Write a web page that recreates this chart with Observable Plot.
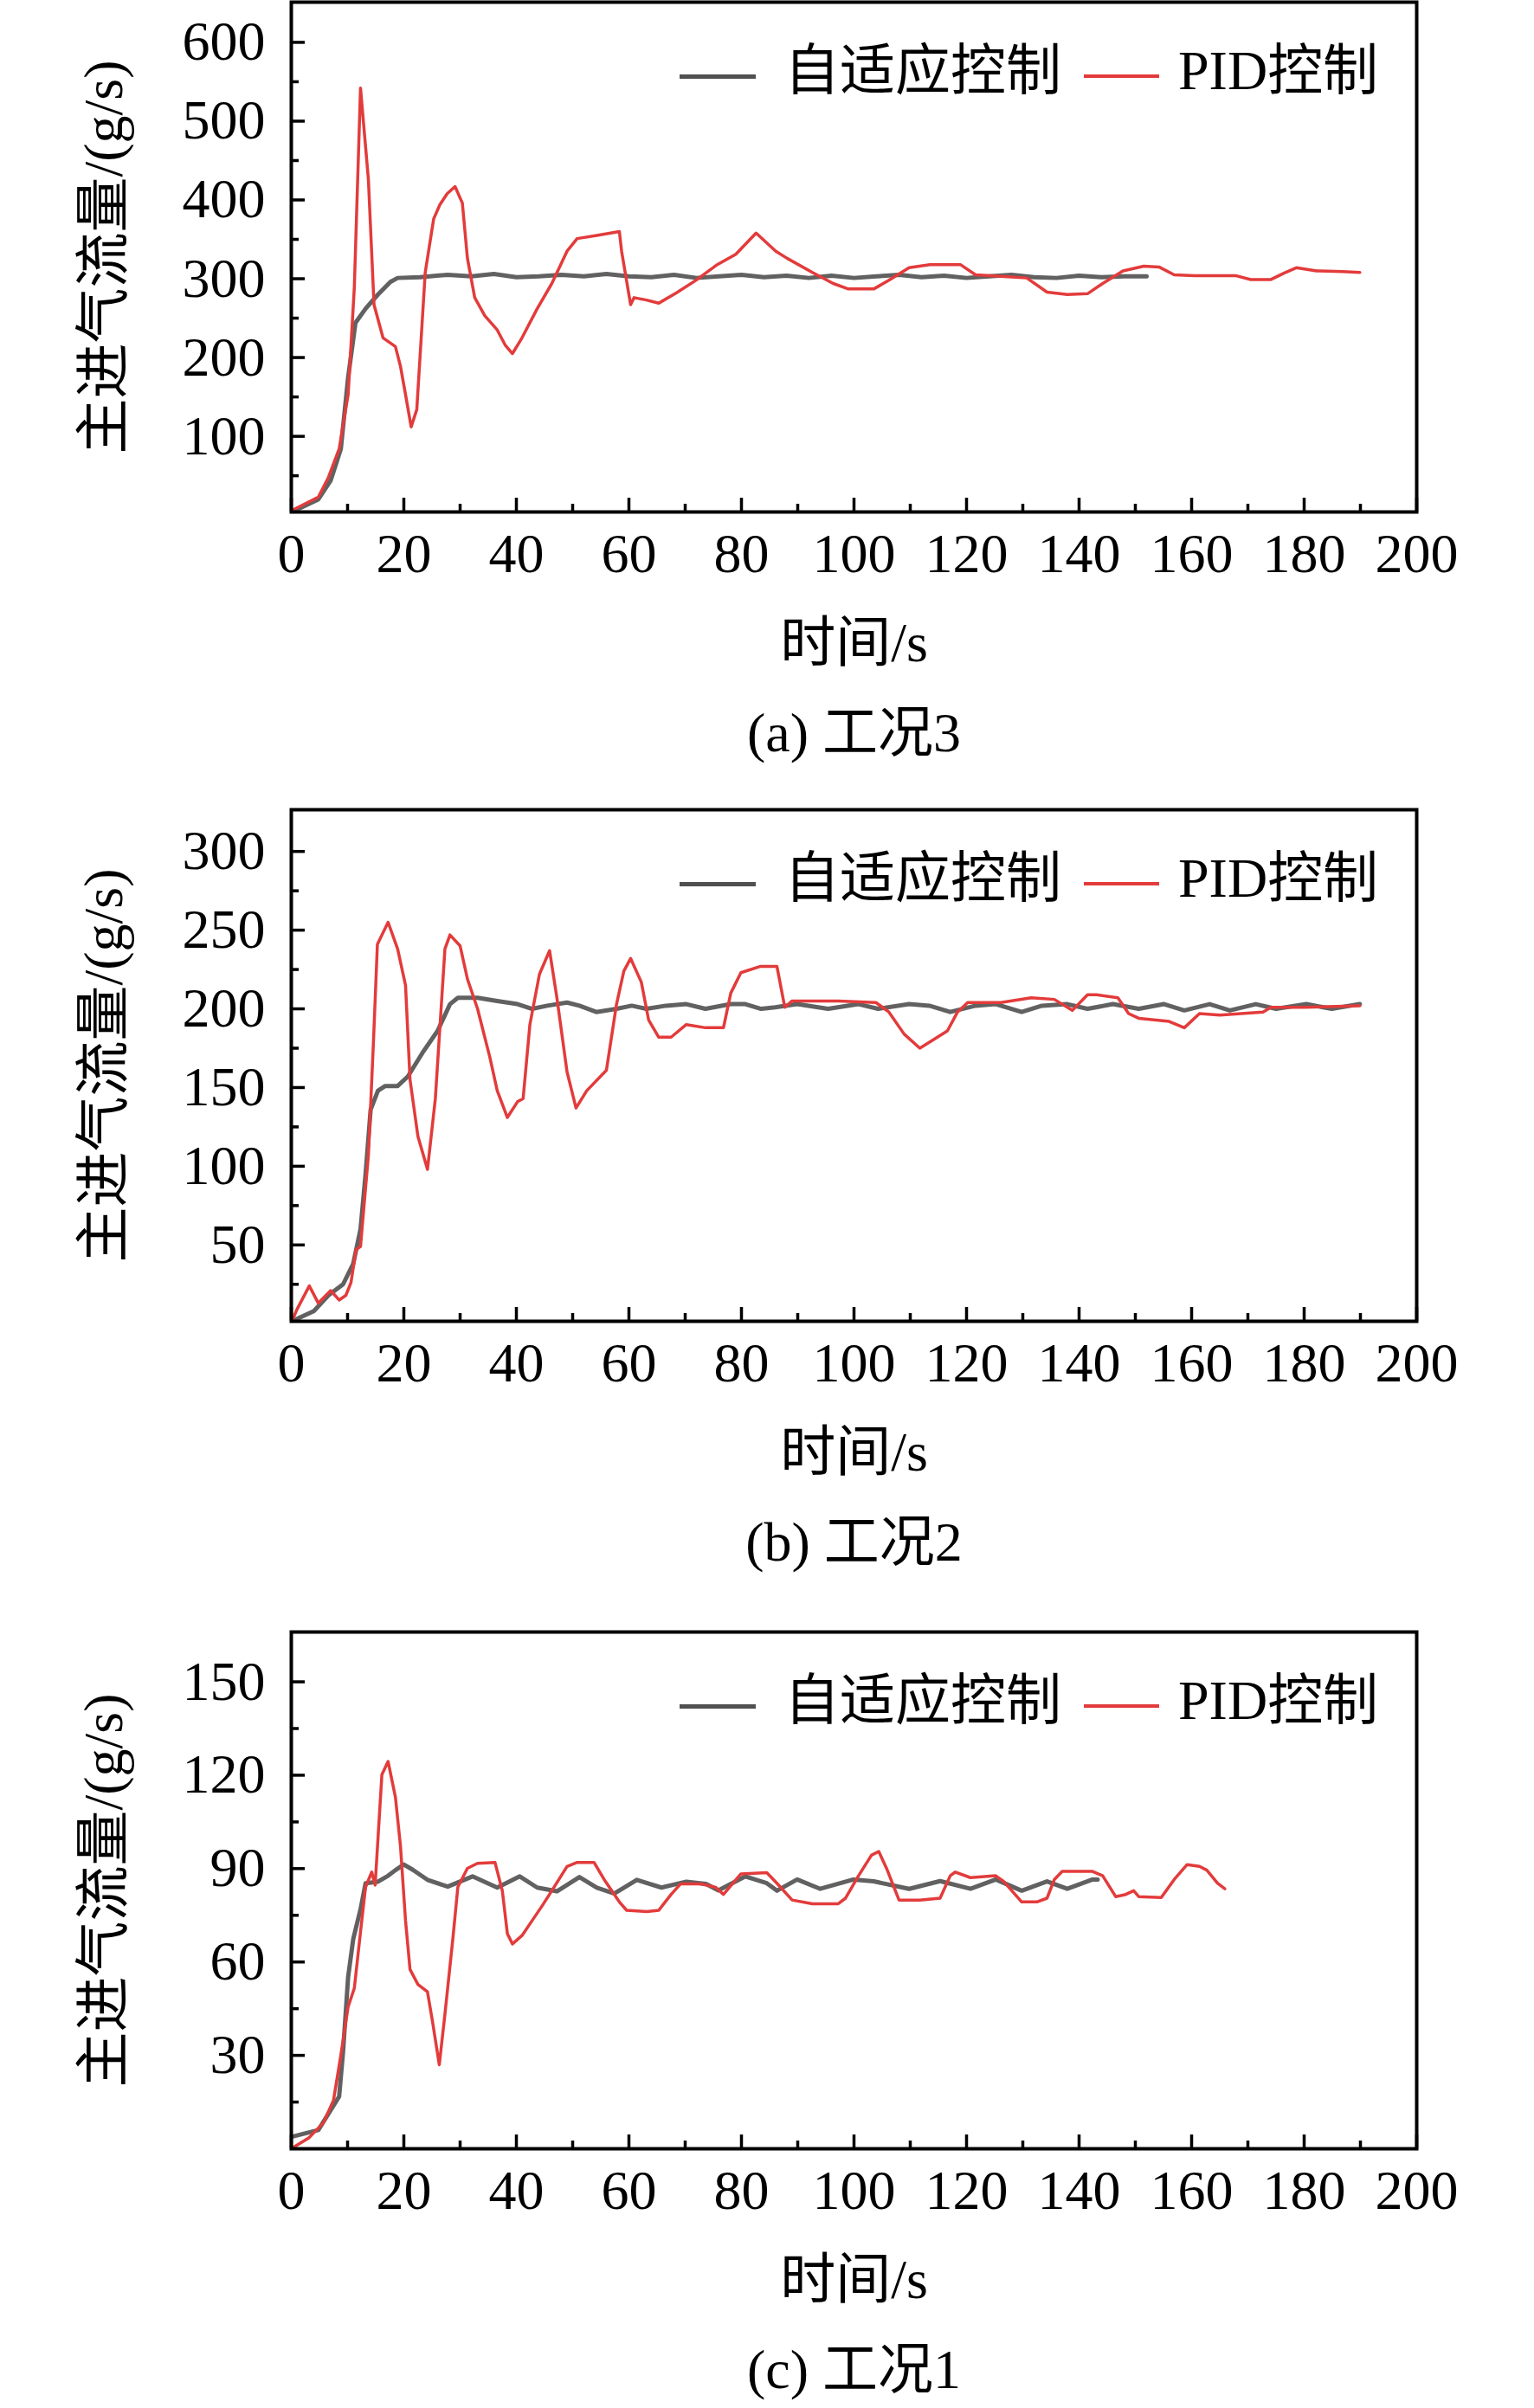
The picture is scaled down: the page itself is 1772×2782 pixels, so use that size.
<!DOCTYPE html>
<html><head><meta charset="utf-8">
<script src="https://cdn.jsdelivr.net/npm/d3@7"></script>
<script src="https://cdn.jsdelivr.net/npm/@observablehq/plot@0.6"></script>
<style>
html,body{margin:0;padding:0;background:#fff;}
body{width:1772px;height:2782px;position:relative;overflow:hidden;font-family:"Liberation Serif","Noto Sans CJK SC",serif;}
.panel{position:absolute;left:0;}
.panel svg text{font-family:"Liberation Serif","Noto Sans CJK SC",serif !important;}
.leg{position:absolute;font-size:64px;line-height:64px;color:#000;white-space:nowrap;}
.sw{position:absolute;}
</style></head><body>
<script>
// ---------- data ----------
const xMajor = [0,20,40,60,80,100,120,140,160,180,200];
const xMinor = [10,30,50,70,90,110,130,150,170,190];
const legendLabels = ["自适应控制","PID控制"];
const yLabel = "主进气流量/(g/s)";
const xLabel = "时间/s";

// (a) 工况3
const a_yMajor = [100,200,300,400,500,600];
const a_yMinor = [50,150,250,350,450,550];
const a_pid_t = [0.4,4.8,6.6,8.5,10.1,11.2,12.3,13.7,14.7,16.3,18.5,19.4,20.3,21.3,22.3,23.8,25.3,26.4,27.7,29.1,30.4,31.3,32.6,34.4,36.6,38.0,39.3,41.0,43.7,46.3,49.0,50.8,54.3,58.3,58.7,60.3,60.9,63.1,65.3,68.4,71.9,75.5,79.0,82.6,86.1,88.1,92.6,96.3,99,103.5,106.2,109.8,113.5,118.9,121.6,126.1,130.7,134.3,137.9,141.5,144.2,147.8,151.5,154.2,156.9,160.5,167.8,170.5,174.1,176.4,178.6,182.2,186.8,189.9];
const a_pid_v = [7,23,48,84,153,289,542,426,267,225,214,189,153,112,134,308,376,394,408,417,396,326,276,253,235,216,205,225,262,294,335,351,355,360,335,267,276,273,269,282,298,317,331,358,335,326,308,294,287,287,298,314,318,318,305,303,301,283,280,281,294,310,316,315,305,304,304,299,299,307,314,310,309,308];
const a_ada_t = [0.4,4.8,7,8.8,10.1,11.4,13.2,15.4,17.6,18.9,22.9,27.8,32,36,40,44,48,52,56,60,64,68,72,76,80,84,88,92,96,100,104,108,112,116,120,124,128,132,136,140,144,148,152];
const a_ada_v = [5,20,44,84,175,244,262,280,296,301,302,305,303,306,302,303,305,303,306,303,302,305,301,303,305,302,304,301,304,301,303,305,302,304,301,303,305,302,301,304,302,303,303];

// (b) 工况2
const b_yMajor = [50,100,150,200,250,300];
const b_yMinor = [25,75,125,175,225,275];
const b_pid_t = [0.3,1.0,3.2,4.8,7,8.5,9.7,10.6,11.5,12.3,13.7,14.6,15.3,17.2,18.9,20.3,21.1,22.5,24.2,25.6,27.3,28.2,30,31.3,33.1,35.3,36.6,38.4,40.2,41.2,42.4,44.1,45.9,47.2,49.0,50.6,52.5,56.0,57.8,59.1,60.3,62.2,63.5,65.3,67.5,70.2,73.6,76.8,78.1,79.9,83.4,86.3,87.7,89,97.2,103.9,106.2,108.9,111.7,114.4,116.6,118.4,120.2,126.1,131.5,135.6,138.8,141.5,143.1,146.9,148.8,150.6,156,158.7,161.4,165,172.7,174.1,180,189.9];
const b_pid_v = [3,9,24,13,21,15,18,26,47,49,107,179,241,255,238,215,155,119,98,143,238,247,240,219,200,169,148,131,141,143,190,222,237,207,160,137,148,161,203,224,232,217,193,182,182,190,188,188,210,223,227,227,201,205,205,204,198,184,175,181,186,198,204,204,207,206,199,209,209,207,197,194,192,188,197,196,198,201,201,202];
const b_ada_t = [0.4,4,6.6,9.2,11,12.3,13.2,14.1,15.4,16.7,18.9,20.7,23.3,26,28.2,29.6,33.1,36.6,40.2,42.8,45.5,49,51.2,54.2,57.8,60.5,63.1,66.6,70.2,73.6,78.1,80.7,83.5,86,89.9,95.4,100.8,104.3,109.8,113.4,117.1,121.6,125.2,129.8,133.4,137.9,141.5,146,150.6,155.1,158.7,163.2,166.8,171.4,175,180.4,184.9,189.9];
const b_ada_v = [2,8,18,25,38,60,95,136,148,151,151,157,172,186,203,207,207,205,203,200,202,204,202,198,200,202,200,202,203,200,203,203,200,201,203,200,203,200,203,202,198,202,203,198,202,203,200,203,200,203,199,203,199,203,200,203,200,203];

// (c) 工况1
const c_yMajor = [30,60,90,120,150];
const c_yMinor = [15,45,75,105,135];
const c_pid_t = [0.4,3.1,5.7,7.5,8.8,10.1,11.2,12.3,13.2,14.3,14.9,16.1,17.2,18.5,19.4,20.3,21.1,22.5,24.2,25.1,26.3,27.3,28.7,29.6,31.3,33.1,36.2,37.5,38.4,39.3,41.0,42.8,44.6,46.3,49,50.8,53.8,55.6,58.3,59.6,63.2,65.3,67.5,69.2,72.8,75.4,76.8,79.9,84.5,86.3,89,92.6,97.2,98.5,100.8,103.1,104.4,105.9,108,111.7,115.3,117.1,118,120.7,125.2,126.6,129.8,132.5,134.3,135.6,137,142.4,144.2,146.5,148.3,149.7,150.6,154.6,156.9,159.2,161.4,162.7,164.6,165.9];
const c_pid_v = [0.5,3.5,8.3,15.6,30,45.6,51.6,69.7,84.1,88.9,84.7,120.2,124.4,113,97.3,73.3,57.6,52.8,50.4,40.8,27,43.2,67.3,84.1,90.1,91.7,92,82.9,69.1,65.8,68.5,73.3,78.1,82.9,90.7,92,92,86.5,79.3,76.6,76.2,76.6,81.7,85.1,85.1,84,81.7,88.3,88.7,85.3,79.9,78.7,78.7,80.5,87.7,94.3,95.5,89.6,79.9,79.9,80.5,87.7,88.9,87.1,87.7,85.9,79.3,79.3,80.5,86.5,89.1,89.1,87.7,81,81.7,82.9,81,80.7,86.5,91.3,90.7,89.5,85.3,83.5];
const c_ada_t = [0.4,4.8,8.5,9.2,10.1,11,12.3,13.2,15.4,17.2,18.5,20,21.6,24.2,27.8,32.2,36.6,40.6,43.7,47.2,51.2,54.3,57.4,61.4,65.8,70.2,73.7,75.9,80.7,84.5,86.3,89.9,94,99.9,103.5,109.8,115.3,120.7,125.2,129.8,134.3,137.9,142.4,143.3];
const c_ada_v = [4,6,16.8,31.2,55.2,67.3,76.9,85.3,85.8,87.7,89.5,91.3,89.6,86.4,84.2,87.5,83.9,87.5,83.9,82.7,87.3,83.9,82,86.4,83.9,85.8,85.1,83,87.5,85.3,82.9,86.5,83.5,86.5,85.9,83.5,86,83.5,86.5,82.9,85.9,83.5,86.5,86.5];

// ---------- drawing ----------
const FONT = '"Liberation Serif","Noto Sans CJK SC",serif';
const RED = "#e33b3b", GRAY = "#505050";
const zip = (t, v) => t.slice(0, Math.min(t.length, v.length)).map((x, i) => ({t: x, v: v[i]}));

function panel({frameTop, H, yDomain, yMajor, yMinor, pidT, pidV, adaT, adaV, caption}) {
  const mt = 10, mb = 300, W = 1772, ml = 336, mr = 136;
  const fw = W - ml - mr;
  const tx = {stroke: "#000", strokeWidth: 3.5};
  const txt = {fontSize: 64, fontFamily: FONT, fill: "#000", lineAnchor: "middle", textAnchor: "middle"};
  const chart = Plot.plot({
    width: W, height: mt + H + mb,
    marginLeft: ml, marginRight: mr, marginTop: mt, marginBottom: mb,
    style: {fontFamily: FONT, fontSize: "64px", color: "#000", background: "transparent", overflow: "visible"},
    x: {domain: [0, 200]},
    y: {domain: yDomain},
    marks: [
      Plot.line(zip(adaT, adaV), {x: "t", y: "v", stroke: GRAY, strokeWidth: 5, strokeOpacity: 0.9}),
      Plot.line(zip(pidT, pidV), {x: "t", y: "v", stroke: RED, strokeWidth: 3.5}),
      Plot.ruleX(xMajor, {x: d => d, insetTop: H - 16, ...tx}),
      Plot.ruleX(xMinor, {x: d => d, insetTop: H - 9, ...tx}),
      Plot.ruleY(yMajor, {y: d => d, insetRight: fw - 16, ...tx}),
      Plot.ruleY(yMinor, {y: d => d, insetRight: fw - 9, ...tx}),
      Plot.axisX(xMajor, {tickSize: 0, tickPadding: 24, label: null, fontSize: 64, fontFamily: FONT}),
      Plot.axisY(yMajor, {tickSize: 0, tickPadding: 30, label: null, fontSize: 64, fontFamily: FONT}),
      Plot.frame({stroke: "#000", strokeWidth: 4}),
      Plot.text([yLabel], {text: d => d, frameAnchor: "left", dx: -216, rotate: -90, ...txt}),
      Plot.text([xLabel], {text: d => d, frameAnchor: "bottom", dy: 152, ...txt}),
      Plot.text([caption], {text: d => d, frameAnchor: "bottom", dy: 256, ...txt})
    ]
  });
  const wrap = document.createElement("div");
  wrap.className = "panel";
  wrap.style.top = (frameTop - mt) + "px";
  wrap.appendChild(chart);
  document.body.appendChild(wrap);

  // legend (inside frame, top right)
  const cy = frameTop + 86;
  const add = (cls, css, text) => {
    const e = document.createElement("div");
    e.className = cls;
    Object.assign(e.style, css);
    if (text) e.textContent = text;
    document.body.appendChild(e);
  };
  add("sw", {left: "785px", top: (cy - 2.5) + "px", width: "88px", height: "5px", background: GRAY});
  add("leg", {left: "906px", top: (cy - 38) + "px"}, legendLabels[0]);
  add("sw", {left: "1252px", top: (cy - 2) + "px", width: "87px", height: "4px", background: RED});
  add("leg", {left: "1361px", top: (cy - 38) + "px"}, legendLabels[1]);
}

panel({frameTop: 2, H: 589, yDomain: [4, 651], yMajor: a_yMajor, yMinor: a_yMinor,
  pidT: a_pid_t, pidV: a_pid_v, adaT: a_ada_t, adaV: a_ada_v, caption: "(a) 工况3"});
panel({frameTop: 935, H: 591, yDomain: [1.5, 326.5], yMajor: b_yMajor, yMinor: b_yMinor,
  pidT: b_pid_t, pidV: b_pid_v, adaT: b_ada_t, adaV: b_ada_v, caption: "(b) 工况2"});
panel({frameTop: 1885, H: 597, yDomain: [0, 166], yMajor: c_yMajor, yMinor: c_yMinor,
  pidT: c_pid_t, pidV: c_pid_v, adaT: c_ada_t, adaV: c_ada_v, caption: "(c) 工况1"});
</script>
</body></html>
